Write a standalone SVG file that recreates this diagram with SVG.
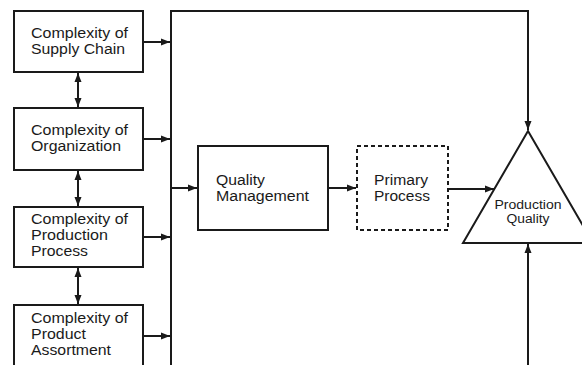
<svg xmlns="http://www.w3.org/2000/svg" width="582" height="365" viewBox="0 0 582 365">
  <style>
    .box { fill: #fff; stroke: #1a1a1a; stroke-width: 2; }
    .dash { fill: #fff; stroke: #1a1a1a; stroke-width: 2; stroke-dasharray: 4 3; }
    .wire { fill: none; stroke: #1a1a1a; stroke-width: 2; }
    .lbl { font-family: "Liberation Sans", Arial, sans-serif; font-size: 14px; fill: #1a1a1a; }
    .small { font-family: "Liberation Sans", Arial, sans-serif; font-size: 12px; fill: #1a1a1a; text-anchor: middle; }
  </style>
  <defs>
    <marker id="arrow" markerUnits="userSpaceOnUse" markerWidth="10" markerHeight="8" refX="9" refY="4" orient="auto-start-reverse">
      <path d="M0,0.5 L9,4 L0,7.5 z" fill="#1a1a1a"/>
    </marker>
  </defs>

  <g id="connectors">
    <!-- collector bus -->
    <path class="wire" d="M171,365 L171,11 L528,11 L528,130" marker-end="url(#arrow)"/>
    <!-- factor inputs to bus -->
    <line class="wire" x1="143" y1="42" x2="170" y2="42" marker-end="url(#arrow)"/>
    <line class="wire" x1="143" y1="139" x2="170" y2="139" marker-end="url(#arrow)"/>
    <line class="wire" x1="143" y1="237" x2="170" y2="237" marker-end="url(#arrow)"/>
    <line class="wire" x1="143" y1="336" x2="170" y2="336" marker-end="url(#arrow)"/>
    <!-- mutual dependencies between factors -->
    <line class="wire" x1="78" y1="73" x2="78" y2="107" marker-start="url(#arrow)" marker-end="url(#arrow)"/>
    <line class="wire" x1="78" y1="171" x2="78" y2="206" marker-start="url(#arrow)" marker-end="url(#arrow)"/>
    <line class="wire" x1="78" y1="268" x2="78" y2="304" marker-start="url(#arrow)" marker-end="url(#arrow)"/>
    <!-- main chain -->
    <line class="wire" x1="171" y1="188" x2="197" y2="188" marker-end="url(#arrow)"/>
    <line class="wire" x1="328" y1="188" x2="356" y2="188" marker-end="url(#arrow)"/>
    <line class="wire" x1="448" y1="189" x2="494" y2="189" marker-end="url(#arrow)"/>
    <!-- input from below -->
    <line class="wire" x1="528" y1="365" x2="528" y2="244" marker-end="url(#arrow)"/>
  </g>

  <g id="supply-chain">
    <rect class="box" x="14" y="11" width="129" height="61"/>
    <text class="lbl" x="31" y="38" textLength="97" lengthAdjust="spacingAndGlyphs">Complexity of</text>
    <text class="lbl" x="31" y="54" textLength="94" lengthAdjust="spacingAndGlyphs">Supply Chain</text>
  </g>

  <g id="organization">
    <rect class="box" x="14" y="108" width="129" height="62"/>
    <text class="lbl" x="31" y="135" textLength="97" lengthAdjust="spacingAndGlyphs">Complexity of</text>
    <text class="lbl" x="31" y="151" textLength="90" lengthAdjust="spacingAndGlyphs">Organization</text>
  </g>

  <g id="production-process">
    <rect class="box" x="14" y="207" width="129" height="60"/>
    <text class="lbl" x="31" y="224" textLength="97" lengthAdjust="spacingAndGlyphs">Complexity of</text>
    <text class="lbl" x="31" y="240" textLength="77" lengthAdjust="spacingAndGlyphs">Production</text>
    <text class="lbl" x="31" y="256" textLength="57" lengthAdjust="spacingAndGlyphs">Process</text>
  </g>

  <g id="product-assortment">
    <rect class="box" x="14" y="305" width="129" height="70"/>
    <text class="lbl" x="31" y="323" textLength="97" lengthAdjust="spacingAndGlyphs">Complexity of</text>
    <text class="lbl" x="31" y="339" textLength="55" lengthAdjust="spacingAndGlyphs">Product</text>
    <text class="lbl" x="31" y="355" textLength="80" lengthAdjust="spacingAndGlyphs">Assortment</text>
  </g>

  <g id="quality-management">
    <rect class="box" x="198" y="146" width="130" height="84"/>
    <text class="lbl" x="216" y="185" textLength="49" lengthAdjust="spacingAndGlyphs">Quality</text>
    <text class="lbl" x="216" y="201" textLength="93" lengthAdjust="spacingAndGlyphs">Management</text>
  </g>

  <g id="primary-process">
    <rect class="dash" x="357" y="146" width="91" height="84"/>
    <text class="lbl" x="374" y="185" textLength="54" lengthAdjust="spacingAndGlyphs">Primary</text>
    <text class="lbl" x="374" y="201" textLength="56" lengthAdjust="spacingAndGlyphs">Process</text>
  </g>

  <g id="production-quality">
    <polygon class="box" points="528,131 593,243 463,243"/>
    <text class="small" x="528" y="209" textLength="67" lengthAdjust="spacingAndGlyphs">Production</text>
    <text class="small" x="528" y="223" textLength="43" lengthAdjust="spacingAndGlyphs">Quality</text>
  </g>
</svg>
